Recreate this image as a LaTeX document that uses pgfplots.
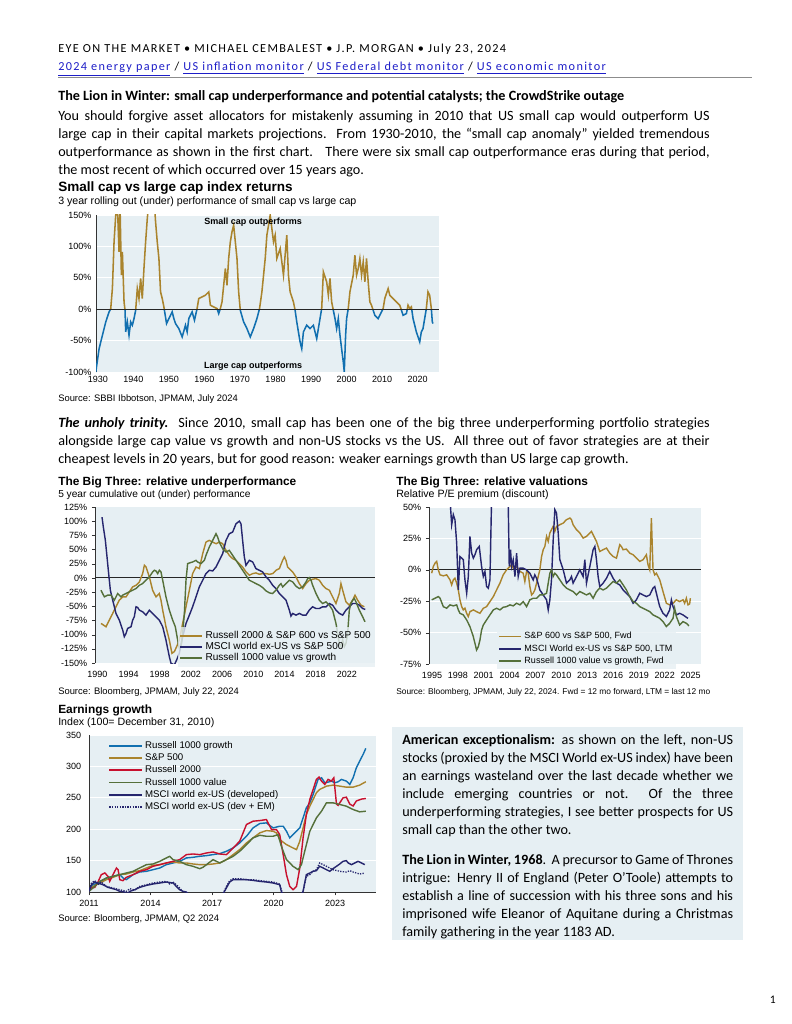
\documentclass[border=0pt]{standalone}
\usepackage{pgfplots}
\pgfplotsset{compat=1.18}
\usepackage{pgfplotstable}
\usepackage{fontspec}
\setmainfont{Carlito}
\newfontfamily\chartfont{Liberation Sans}
\newfontfamily\hdrfont[LetterSpace=11]{Carlito}

\definecolor{plotbg}{RGB}{230,239,243}
\definecolor{boxbg}{RGB}{230,239,243}
\definecolor{gold}{RGB}{170,132,45}
\definecolor{cblue}{RGB}{18,112,176}
\definecolor{navy}{RGB}{38,38,110}
\definecolor{dgreen}{RGB}{85,112,58}
\definecolor{cred}{RGB}{200,16,46}
\definecolor{linkblue}{RGB}{30,30,200}

\newcommand\bodyfont{\fontsize{11}{13.9}\selectfont}
\newcommand\lnk[1]{\textcolor{linkblue}{\underline{#1}}}
\newcommand\ttl{\chartfont\bfseries\fontsize{9.25}{11}\selectfont}
\newcommand\sub{\chartfont\fontsize{8.25}{10}\selectfont}
\newcommand\src{\chartfont\fontsize{7.3}{8.5}\selectfont}

\pgfplotsset{
  eotm/.style={
    scale only axis,
    axis background/.style={fill=plotbg},
    axis lines*=left,
    axis line style={draw=black!80, line width=0.5pt},
    x axis line style={draw=none},
    tick label style={font=\chartfont\fontsize{7}{8}\selectfont},
    xtick style={draw=none},
    ytick style={draw=none},
    major grid style={white, line width=0.8pt},
    legend cell align=left,
    legend style={font=\chartfont\fontsize{7.5}{8.5}\selectfont},
  },
}

% small cap minus large cap, 3y rolling
\pgfplotstableread{
year val
1929.44 -99.8
1930.38 -62.7
1931.31 -41.4
1932.25 -20.2
1933.18 -4.2
1933.65 1.1
1934.11 32.9
1934.58 107.3
1935.05 149.7
1935.52 165
1935.98 91.3
1936.26 165
1936.64 54.2
1936.92 91.3
1937.39 11.7
1937.67 -1.6
1937.85 -36.1
1938.32 -20.2
1938.79 -41.4
1939.25 -20.2
1939.72 -25.5
1940.19 -14.9
1940.66 -1.6
1941.12 32.9
1941.59 17
1942.06 48.9
1942.52 17
1942.99 64.8
1943.46 107.3
1943.93 144.4
1944.39 171
1945.33 171
1945.98 163
1946.26 139.1
1946.73 107.3
1947.20 80.7
1947.66 27.6
1948.13 17
1948.60 3.7
1948.97 -9.6
1949.35 -22.8
1950.00 -14.9
1950.93 -4.2
1951.40 -14.9
1951.87 -22.8
1952.80 -30.8
1953.74 -44.1
1954.67 -25.5
1955.14 -36.1
1955.61 -14.9
1956.54 -4.2
1957.20 -17.5
1957.94 1.1
1958.41 17
1959.35 19.6
1960.28 22.3
1961.22 27.6
1961.68 6.4
1962.62 3.7
1963.55 1.1
1964.02 -6.9
1964.49 1.1
1964.95 11.7
1965.89 64.8
1966.35 38.2
1966.82 80.7
1967.29 107.3
1967.76 123.2
1968.22 133.8
1968.69 107.3
1969.16 80.7
1969.63 27.6
1970.09 -1.6
1971.03 -20.2
1971.96 -30.8
1972.90 -44.1
1973.83 -30.8
1974.77 -14.9
1975.51 1.1
1976.17 27.6
1977.10 80.7
1977.57 117.9
1978.04 133.8
1978.50 149.7
1978.97 128.5
1979.44 107.3
1979.90 117.9
1980.37 80.7
1981.31 96.6
1982.24 54.2
1983.17 117.9
1983.64 54.2
1984.11 27.6
1985.04 11.7
1985.51 -1.6
1985.98 -20.2
1986.91 -52
1987.38 -62.7
1987.85 -36.1
1988.78 -25.5
1989.72 -30.8
1990.65 -25.5
1991.59 -46.7
1992.52 -14.9
1992.99 1.1
1993.46 59.5
1994.39 43.5
1994.86 22.3
1995.32 48.9
1995.79 11.7
1996.26 -1.6
1996.73 -14.9
1997.19 -30.8
1997.66 -14.9
1998.13 -41.4
1998.59 -62.7
1999.06 -83.9
1999.34 -99.8
1999.72 -41.4
2000.00 -14.9
2000.46 1.1
2000.93 27.6
2001.86 54.2
2002.33 86
2002.80 54.2
2003.27 64.8
2003.73 80.7
2004.20 54.2
2004.67 75.4
2005.14 43.5
2005.60 80.7
2006.07 43.5
2006.54 11.7
2007.00 6.4
2007.47 -1.6
2007.94 -9.6
2008.87 -14.9
2009.81 -4.2
2010.28 1.1
2010.74 17
2011.68 32.9
2012.15 22.3
2013.08 17
2014.01 11.7
2014.95 6.4
2015.42 -1.6
2015.88 -9.6
2016.82 -6.9
2017.28 6.4
2017.75 1.1
2018.22 3.7
2018.69 -14.9
2019.62 -36.1
2020.56 -52
2021.02 -36.1
2021.49 -30.8
2021.96 -14.9
2022.43 1.1
2022.89 27.6
2023.36 22.3
2023.83 1.1
2024.11 -20.2
2024.29 -22.8
}\smallcap

\begin{document}
\begin{tikzpicture}[x=0.7737bp, y=-0.7737bp]
\fill[white] (0,0) rectangle (791,1024);
\path[use as bounding box] (0,0) rectangle (791,1024);

% ---- header
\node[anchor=base west, inner sep=0] at (58,53) {\hdrfont\fontsize{9.5}{11}\selectfont EYE ON THE MARKET \textbullet\ MICHAEL CEMBALEST \textbullet\ J.P. MORGAN \textbullet\ July 23, 2024};
\node[anchor=base west, inner sep=0] at (58,71) {\hdrfont\fontsize{9.5}{11}\selectfont \lnk{2024 energy paper} / \lnk{US inflation monitor} / \lnk{US Federal debt monitor} / \lnk{US economic monitor}};
\draw[black!45, line width=1.3bp] (58,77.5) -- (752,77.5);

\node[anchor=base west, inner sep=0] at (58,101) {\fontsize{11}{13}\selectfont\bfseries The Lion in Winter: small cap underperformance and potential catalysts; the CrowdStrike outage};
\node[anchor=base west, inner sep=0] at (58,121) {\bodyfont\makebox[504bp][s]{You should forgive asset allocators for mistakenly assuming in 2010 that US small cap would outperform US}};
\node[anchor=base west, inner sep=0] at (58,139) {\bodyfont\makebox[504bp][s]{large cap in their capital markets projections.\ \ From 1930-2010, the “small cap anomaly” yielded tremendous}};
\node[anchor=base west, inner sep=0] at (58,157) {\bodyfont\makebox[504bp][s]{outperformance as shown in the first chart.\ \ \ There were six small cap outperformance eras during that period,}};
\node[anchor=base west, inner sep=0] at (58,175) {\bodyfont the most recent of which occurred over 15 years ago.};

% ---- chart 1
\node[anchor=base west, inner sep=0] at (58,192) {\chartfont\bfseries\fontsize{10.5}{12}\selectfont Small cap vs large cap index returns};
\node[anchor=base west, inner sep=0] at (58,205) {\sub 3 year rolling out (under) performance of small cap vs large cap};
\coordinate (c1) at (96,215);
\begin{axis}[eotm, at={(c1)}, anchor=north west, width=265.4bp, height=121.5bp,
  xmin=1929.5, xmax=2026, ymin=-100, ymax=150,
  xtick={1930,1940,...,2020},
  xticklabels={1930,1940,1950,1960,1970,1980,1990,2000,2010,2020},
  ytick={-100,-50,0,50,100,150},
  yticklabels={-100\%,-50\%,0\%,50\%,100\%,150\%},
  ymajorgrids]
\begin{scope}
\clip (axis cs:1920,0) rectangle (axis cs:2030,200);
\addplot[gold, line width=1.2pt] table[x=year, y=val] {\smallcap};
\end{scope}
\begin{scope}
\clip (axis cs:1920,-200) rectangle (axis cs:2030,0);
\addplot[cblue, line width=1.2pt] table[x=year, y=val] {\smallcap};
\end{scope}
\draw[black!85, line width=0.9pt] (axis cs:1929.5,0) -- (axis cs:2026,0);
\node[font=\chartfont\bfseries\fontsize{7}{8}\selectfont] at (axis cs:1973.7,138.5) {Small cap outperforms};
\node[font=\chartfont\bfseries\fontsize{7}{8}\selectfont] at (axis cs:1973.7,-90) {Large cap outperforms};
\end{axis}
\node[anchor=base west, inner sep=0] at (58,401) {\src Source: SBBI Ibbotson, JPMAM, July 2024};

% ---- paragraph 2
\node[anchor=base west, inner sep=0] at (58,427) {\bodyfont\makebox[504bp][s]{\textbf{\textit{The unholy trinity.}}\ \ Since 2010, small cap has been one of the big three underperforming portfolio strategies}};
\node[anchor=base west, inner sep=0] at (58,445) {\bodyfont\makebox[504bp][s]{alongside large cap value vs growth and non-US stocks vs the US.\ \ All three out of favor strategies are at their}};
\node[anchor=base west, inner sep=0] at (58,463) {\bodyfont cheapest levels in 20 years, but for good reason: weaker earnings growth than US large cap growth.};

% ---- chart 2
\node[anchor=base west, inner sep=0] at (58,485) {\ttl The Big Three: relative underperformance};
\node[anchor=base west, inner sep=0] at (58,497) {\chartfont\fontsize{7.9}{9.5}\selectfont 5 year cumulative out (under) performance};
\coordinate (c2) at (95,507);
\begin{axis}[eotm, at={(c2)}, anchor=north west, width=216.6bp, height=120.7bp,
  xmin=1989.7, xmax=2025.6, ymin=-150, ymax=125,
  xtick={1990,1994,...,2022},
  xticklabels={1990,1994,1998,2002,2006,2010,2014,2018,2022},
  ytick={-150,-125,-100,-75,-50,-25,0,25,50,75,100,125},
  yticklabels={-150\%,-125\%,-100\%,-75\%,-50\%,-25\%,0\%,25\%,50\%,75\%,100\%,125\%},
  ytick style={draw=black!80}, tick align=outside, major tick length=2.5bp,
  legend style={at={(1,-0.025)}, anchor=south east, fill=plotbg, fill opacity=0.8, text opacity=1,
    draw=none, row sep=-2.5pt, inner sep=1pt, font=\chartfont\fontsize{7.8}{8.8}\selectfont},
  legend image code/.code={\draw[#1, line width=1.3pt] (0bp,0bp) -- (17bp,0bp);}]
\draw[black!85, line width=0.9pt] (axis cs:1989.7,0) -- (axis cs:2025.6,0);
\addplot[gold, line width=1.1pt] coordinates {
(1990.47,-80.2) (1991.11,-86.1) (1991.54,-74.4) (1991.97,-62.6) (1992.39,-50.9)
(1992.82,-39.2) (1993.25,-33.4) (1993.68,-33.4) (1994.10,-24.6) (1994.53,-15.8)
(1994.96,-12.9) (1995.39,-7.0) (1995.81,7.6) (1996.03,22.2) (1996.24,19.3)
(1996.67,1.8) (1997.09,-21.7) (1997.52,-33.4) (1997.95,-27.5) (1998.16,-39.2)
(1998.38,-56.8) (1998.80,-86.1) (1999.23,-109.5) (1999.57,-132.9) (1999.87,-130.0)
(2000.17,-121.2) (2000.51,-109.5) (2000.73,-94.9) (2000.94,-80.2) (2001.37,-50.9)
(2001.80,-21.7) (2002.22,7.6) (2002.65,19.3) (2003.08,16.4) (2003.51,42.7)
(2003.93,63.2) (2004.36,66.2) (2004.79,63.2) (2005.22,60.3) (2005.64,63.2)
(2006.07,60.3) (2006.50,48.6) (2006.92,39.8) (2007.35,34.0) (2007.78,31.0)
(2008.21,25.2) (2008.63,19.3) (2009.06,10.5) (2009.49,4.7) (2009.92,7.6)
(2010.34,8.8) (2010.77,6.4) (2011.20,7.6) (2011.63,7.6) (2012.05,6.4)
(2012.48,7.6) (2012.91,13.5) (2013.34,16.4) (2013.76,31.0) (2013.98,36.9)
(2014.19,31.0) (2014.40,19.3) (2014.62,16.4) (2015.05,10.5) (2015.47,1.8)
(2015.90,-10.0) (2016.33,-18.7) (2016.76,-10.0) (2017.18,-4.1) (2017.61,-2.3)
(2018.04,-1.2) (2018.47,-4.1) (2018.89,-12.9) (2019.32,-18.7) (2019.75,-21.7)
(2020.17,-33.4) (2020.60,-45.1) (2021.03,-27.5) (2021.24,-10.0) (2021.46,-21.7)
(2021.88,-42.2) (2022.31,-48.0) (2022.74,-39.2) (2023.04,-30.4) (2023.38,-39.2)
(2023.81,-48.0) (2024.23,-50.9)};
\addlegendentry{Russell 2000 \& S\&P 600 vs S\&P 500}
\addplot[navy, line width=1.1pt] coordinates {
(1990.60,107.1) (1990.77,89.6) (1991.03,66.2) (1991.20,42.7) (1991.45,7.6)
(1991.67,-21.7) (1991.97,-39.2) (1992.39,-62.6) (1992.82,-74.4) (1993.25,-91.9)
(1993.46,-103.6) (1993.68,-97.8) (1993.89,-89.0) (1994.32,-86.1) (1994.53,-74.4)
(1994.74,-68.5) (1994.96,-50.9) (1995.17,-52.1) (1995.39,-56.8) (1995.81,-59.7)
(1996.24,-65.6) (1996.67,-56.8) (1997.09,-62.6) (1997.52,-68.5) (1997.95,-74.4)
(1998.38,-86.1) (1998.80,-109.5) (1999.23,-138.8) (1999.45,-150.5) (1999.87,-153.4)
(2000.17,-144.6) (2000.51,-132.9) (2000.94,-103.6) (2001.37,-80.2) (2001.80,-65.6)
(2002.22,-50.9) (2002.65,-33.4) (2003.08,-15.8) (2003.51,-4.1) (2003.93,7.6)
(2004.36,13.5) (2004.79,12.3) (2005.22,19.3) (2005.64,31.0) (2006.07,42.7)
(2006.50,66.2) (2006.92,77.9) (2007.35,80.8) (2007.78,95.4) (2008.21,100.1)
(2008.42,95.4) (2008.63,66.2) (2008.85,36.9) (2009.06,22.2) (2009.49,31.0)
(2009.92,28.1) (2010.34,16.4) (2010.77,13.5) (2011.20,10.5) (2011.63,1.8)
(2012.05,-4.1) (2012.48,-12.9) (2012.91,-18.7) (2013.34,-27.5) (2013.76,-33.4)
(2014.19,-39.2) (2014.62,-56.8) (2014.83,-67.3) (2015.05,-62.6) (2015.47,-65.6)
(2015.90,-62.6) (2016.33,-65.6) (2016.76,-65.6) (2017.18,-56.8) (2017.61,-50.9)
(2018.04,-53.9) (2018.47,-53.9) (2018.89,-50.9) (2019.32,-50.9) (2019.75,-45.1)
(2020.17,-48.0) (2020.60,-56.8) (2021.03,-62.6) (2021.46,-65.6) (2021.88,-56.8)
(2022.31,-50.9) (2022.74,-45.1) (2023.17,-45.1) (2023.59,-48.0) (2024.02,-53.9)
(2024.36,-55.6)};
\addlegendentry{MSCI world ex-US vs S\&P 500}
\addplot[dgreen, line width=1.1pt] coordinates {
(1990.47,-21.7) (1990.90,-33.4) (1991.32,-30.4) (1991.75,-30.4) (1992.18,-39.2)
(1992.61,-27.5) (1993.03,-33.4) (1993.25,-30.4) (1993.68,-27.5) (1994.10,-24.6)
(1994.53,-21.7) (1994.96,-18.7) (1995.39,-12.9) (1995.81,-10.0) (1996.24,-4.1)
(1996.67,1.8) (1997.09,10.5) (1997.31,13.5) (1997.52,12.3) (1997.74,7.6)
(1997.95,13.5) (1998.16,10.5) (1998.38,-4.1) (1998.80,-33.4) (1999.23,-56.8)
(1999.66,-74.4) (2000.00,-86.1) (2000.30,-109.5) (2000.51,-124.1) (2000.73,-121.2)
(2000.94,-97.8) (2001.16,-62.6) (2001.37,-4.1) (2001.58,25.2) (2001.80,26.3)
(2002.22,28.1) (2002.65,31.0) (2002.87,28.1) (2003.29,25.2) (2003.72,31.0)
(2003.93,39.8) (2004.36,54.5) (2004.79,66.2) (2005.22,77.9) (2005.43,72.0)
(2005.64,63.2) (2006.07,51.5) (2006.50,45.7) (2006.92,48.6) (2007.35,39.8)
(2007.78,31.0) (2008.21,22.2) (2008.63,13.5) (2009.06,4.7) (2009.49,-4.1)
(2009.92,-7.0) (2010.34,-10.0) (2010.77,-12.9) (2011.20,-17.0) (2011.63,-22.8)
(2012.05,-26.3) (2012.48,-27.5) (2012.91,-21.7) (2013.34,-12.9) (2013.55,-10.0)
(2013.76,-15.8) (2014.19,-10.0) (2014.62,-4.1) (2015.05,-7.0) (2015.47,-14.6)
(2015.90,-18.7) (2016.33,-15.8) (2016.76,-7.0) (2016.97,-1.2) (2017.18,0.6)
(2017.40,-4.1) (2017.61,-12.9) (2018.04,-27.5) (2018.47,-39.2) (2018.89,-45.1)
(2019.32,-42.2) (2019.75,-48.0) (2020.17,-56.8) (2020.60,-80.2) (2020.82,-97.8)
(2021.03,-115.3) (2021.24,-121.2) (2021.46,-109.5) (2021.67,-121.2) (2021.88,-115.3)
(2022.10,-97.8) (2022.31,-56.8) (2022.52,-45.1) (2022.74,-39.2) (2022.95,-36.3)
(2023.17,-42.2) (2023.59,-56.8) (2024.02,-68.5) (2024.32,-77.3)};
\addlegendentry{Russell 1000 value vs growth}
\end{axis}
\node[anchor=base west, inner sep=0] at (58,694) {\src Source: Bloomberg, JPMAM, July 22, 2024};

% ---- chart 3
\node[anchor=base west, inner sep=0] at (396,485) {\ttl The Big Three: relative valuations};
\node[anchor=base west, inner sep=0] at (396,497) {\sub Relative P/E premium (discount)};
\coordinate (c3) at (429,507);
\begin{axis}[eotm, at={(c3)}, anchor=north west, width=210.4bp, height=121.5bp,
  xmin=1994.65, xmax=2026.2, ymin=-75, ymax=50,
  xtick={1995,1998,...,2025},
  xticklabels={1995,1998,2001,2004,2007,2010,2013,2016,2019,2022,2025},
  ytick={-75,-50,-25,0,25,50},
  yticklabels={-75\%,-50\%,-25\%,0\%,25\%,50\%},
  ymajorgrids,
  ytick style={draw=black!80}, tick align=outside, major tick length=2.5bp,
  legend style={at={(0.249,-0.035)}, anchor=south west, fill=plotbg, fill opacity=0.8, text opacity=1,
    draw=none, row sep=-1pt, inner sep=1pt, font=\chartfont\fontsize{7}{8}\selectfont},
  legend image code/.code={\draw[#1, line width=1.3pt] (0bp,0bp) -- (17bp,0bp);}]
\draw[black!85, line width=0.9pt] (axis cs:1994.65,0) -- (axis cs:2026.2,0);
\addplot[gold, line width=1.1pt] coordinates {
(1994.96,-2.7) (1995.15,2.7) (1995.35,5.3) (1995.54,6.7) (1995.73,0) (1995.93,-4.0)
(1996.31,-4.8) (1996.70,-4.0) (1997.09,-8.0) (1997.28,-12.0) (1997.47,-8.0) (1997.66,-6.7)
(1997.86,-10.6) (1998.05,-16.0) (1998.24,-23.9) (1998.44,-29.3) (1998.63,-31.9) (1998.82,-30.6)
(1999.02,-34.6) (1999.21,-37.2) (1999.40,-33.3) (1999.79,-31.9) (2000.17,-33.3) (2000.56,-34.6)
(2000.95,-30.6) (2001.33,-29.3) (2001.72,-25.3) (2002.11,-21.3) (2002.49,-16.0) (2002.88,-10.6)
(2003.26,-4.0) (2003.65,0) (2004.04,2.7) (2004.23,4.0) (2004.42,1.3) (2004.81,2.7)
(2005.20,-1.3) (2005.58,-2.7) (2005.77,-9.3) (2005.97,-1.3) (2006.16,-2.7) (2006.35,-13.3)
(2006.55,-20.0) (2006.74,-18.6) (2006.93,-16.0) (2007.13,-10.6) (2007.51,0) (2007.71,10.6)
(2007.90,16.0) (2008.09,18.6) (2008.29,26.6) (2008.48,22.6) (2008.67,29.3) (2009.06,34.6)
(2009.25,30.6) (2009.44,34.6) (2009.83,35.9) (2010.22,37.2) (2010.60,39.9) (2010.99,41.2)
(2011.18,39.9) (2011.37,35.9) (2011.76,31.9) (2012.15,29.3) (2012.53,25.3) (2012.92,26.6)
(2013.31,29.3) (2013.50,30.6) (2013.69,27.9) (2014.08,22.6) (2014.46,14.6) (2014.85,16.0)
(2015.24,17.3) (2015.62,13.3) (2016.01,10.6) (2016.40,9.3) (2016.78,20.0) (2016.97,18.6)
(2017.17,16.0) (2017.55,16.5) (2017.94,13.3) (2018.33,12.0) (2018.71,9.3) (2019.10,6.7)
(2019.48,8.0) (2019.87,12.0) (2020.06,4.0) (2020.26,0) (2020.45,41.2) (2020.64,0)
(2020.84,-4.0) (2021.03,-2.7) (2021.42,-8.0) (2021.80,-17.3) (2022.19,-26.6) (2022.57,-27.9)
(2022.96,-26.6) (2023.35,-23.9) (2023.73,-25.3) (2024.12,-23.9) (2024.31,-26.6) (2024.51,-22.6)
(2024.70,-27.9) (2024.89,-27.1) (2024.97,-22.6)};
\addlegendentry{S\&P 600 vs S\&P 500, Fwd}
\addplot[navy, line width=1.1pt] coordinates {
(1997.01,70) (1997.09,56) (1997.28,35.9) (1997.47,43.9) (1997.66,39.9) (1997.86,21.3)
(1998.05,-16.0) (1998.24,10.6) (1998.44,9.3) (1998.63,8.0) (1998.82,-8.0) (1999.02,-18.6)
(1999.21,-5.3) (1999.40,26.6) (1999.60,13.3) (1999.79,9.3) (1999.98,12.0) (2000.17,16.0)
(2000.48,18.6) (2000.75,2.7) (2000.95,-5.3) (2001.14,-1.3) (2001.33,-13.3) (2001.53,-14.6)
(2001.72,-8.0) (2001.95,70) (2003.80,70) (2003.96,2.7) (2004.11,16.0) (2004.23,2.7)
(2004.42,8.0) (2004.62,-5.3) (2004.81,13.3) (2005.00,-5.3) (2005.20,1.3) (2005.58,1.3)
(2005.97,0) (2006.35,-2.7) (2006.74,-8.0) (2006.93,-4.0) (2007.13,-6.7) (2007.51,-16.0)
(2007.90,-20.0) (2008.29,-23.9) (2008.48,-31.9) (2008.67,-23.9) (2008.86,-8.0) (2009.06,23.9)
(2009.25,47.9) (2009.44,45.2) (2009.64,29.3) (2009.83,8.0) (2010.22,0) (2010.60,-10.6)
(2010.99,-8.0) (2011.18,-5.3) (2011.37,-10.6) (2011.76,-5.3) (2012.15,0) (2012.53,-5.3)
(2012.73,8.0) (2012.92,-10.6) (2013.31,2.7) (2013.69,16.0) (2013.89,18.6) (2014.08,8.0)
(2014.27,-5.3) (2014.46,-13.3) (2014.85,-10.6) (2015.24,-6.7) (2015.62,-1.3) (2016.01,-6.7)
(2016.40,-10.6) (2016.78,-12.0) (2017.17,-16.0) (2017.55,-18.6) (2017.94,-21.3) (2018.33,-26.6)
(2018.71,-23.9) (2019.10,-18.6) (2019.48,-20.0) (2019.87,-21.3) (2020.26,-20.0) (2020.64,-14.6)
(2020.84,-13.3) (2021.03,-18.6) (2021.22,-23.9) (2021.42,-29.3) (2021.80,-34.6) (2022.19,-37.2)
(2022.57,-31.9) (2022.77,-23.9) (2022.96,-29.3) (2023.35,-35.9) (2023.73,-34.6) (2024.12,-35.9)
(2024.51,-37.8) (2024.70,-38.6)};
\addlegendentry{MSCI World ex-US vs S\&P 500, LTM}
\addplot[dgreen, line width=1.1pt] coordinates {
(1994.96,-23.9) (1995.35,-22.6) (1995.73,-21.3) (1995.93,-22.6) (1996.31,-29.3) (1996.70,-30.6)
(1997.09,-27.9) (1997.47,-28.7) (1997.86,-27.9) (1998.05,-31.9) (1998.24,-34.6) (1998.63,-35.9)
(1999.02,-39.9) (1999.40,-45.2) (1999.79,-53.2) (1999.98,-58.5) (2000.17,-63.8) (2000.37,-61.2)
(2000.56,-55.9) (2000.75,-47.9) (2000.95,-43.9) (2001.33,-39.9) (2001.72,-35.9) (2002.11,-31.9)
(2002.49,-30.6) (2002.88,-31.9) (2003.26,-29.8) (2003.65,-29.3) (2004.04,-27.9) (2004.42,-28.7)
(2004.81,-26.6) (2005.20,-27.9) (2005.58,-25.3) (2005.97,-29.3) (2006.35,-23.9) (2006.74,-22.6)
(2007.13,-22.6) (2007.51,-20.0) (2007.90,-20.0) (2008.29,-18.6) (2008.48,-10.6) (2008.67,-2.7)
(2008.86,0) (2009.06,-5.3) (2009.25,-2.7) (2009.44,-4.0) (2009.83,-8.0) (2010.22,-12.0)
(2010.60,-14.6) (2010.99,-16.0) (2011.37,-17.3) (2011.76,-20.0) (2012.15,-17.3) (2012.53,-18.6)
(2012.92,-20.0) (2013.31,-18.6) (2013.69,-22.6) (2014.08,-17.3) (2014.46,-14.6) (2014.85,-16.0)
(2015.24,-14.6) (2015.62,-12.0) (2016.01,-9.3) (2016.40,-10.6) (2016.78,-8.0) (2017.17,-12.0)
(2017.55,-16.0) (2017.94,-21.3) (2018.33,-25.3) (2018.71,-26.6) (2019.10,-29.3) (2019.48,-30.6)
(2019.87,-31.9) (2020.26,-33.3) (2020.64,-35.9) (2021.03,-37.2) (2021.42,-38.6) (2021.80,-41.2)
(2022.19,-45.2) (2022.57,-42.6) (2022.96,-38.6) (2023.15,-30.6) (2023.35,-37.2) (2023.73,-43.9)
(2024.12,-41.2) (2024.51,-42.6) (2024.81,-44.7)};
\addlegendentry{Russell 1000 value vs growth, Fwd}
\end{axis}
\node[anchor=base west, inner sep=0] at (396,694) {\chartfont\fontsize{6.5}{7.5}\selectfont Source: Bloomberg, JPMAM, July 22, 2024. Fwd = 12 mo forward, LTM = last 12 mo};

% ---- chart 4
\node[anchor=base west, inner sep=0] at (58,713) {\ttl Earnings growth};
\node[anchor=base west, inner sep=0] at (58,725) {\sub Index (100= December 31, 2010)};
\coordinate (c4) at (89,735);
\begin{axis}[eotm, at={(c4)}, anchor=north west, width=222.1bp, height=121.5bp,
  xmin=2011, xmax=2025, ymin=100, ymax=350,
  xtick={2011,2014,2017,2020,2023},
  xticklabels={2011,2014,2017,2020,2023},
  ytick={100,150,...,350},
  yticklabels={100,150,200,250,300,350},
  ymajorgrids,
  x axis line style={draw=black!80, line width=0.5pt},
  xtick style={draw=black!80}, tick align=outside, major tick length=2.5bp,
  legend style={at={(0.063,0.985)}, anchor=north west, fill=none, draw=none,
    row sep=-1.4pt, inner sep=1pt},
  legend image code/.code={\draw[#1, line width=1.3pt] (0bp,0bp) -- (25bp,0bp);}]
\addplot[cblue, line width=1.1pt] coordinates {
(2011.00,101.1) (2011.20,111.7) (2011.52,116.0) (2011.85,122.3) (2012.17,125.0) (2012.50,127.7)
(2012.66,122.3) (2012.82,119.7) (2013.15,127.7) (2013.47,131.9) (2013.80,133.0) (2014.12,135.6)
(2014.45,138.3) (2014.77,143.6) (2015.10,146.3) (2015.42,148.9) (2015.59,151.6) (2015.75,154.3)
(2016.07,155.3) (2016.40,156.9) (2016.73,158.0) (2017.05,159.6) (2017.38,161.2) (2017.70,164.9)
(2018.03,170.2) (2018.35,178.2) (2018.68,188.8) (2019.00,202.1) (2019.33,209.1) (2019.65,210.1)
(2019.98,202.1) (2020.30,204.8) (2020.47,204.8) (2020.63,196.8) (2020.79,186.2) (2020.95,191.5)
(2021.12,196.8) (2021.28,202.1) (2021.44,218.1) (2021.60,234.1) (2021.77,242.0) (2021.93,255.3)
(2022.09,271.3) (2022.17,279.3) (2022.34,281.9) (2022.50,274.0) (2022.66,275.0) (2022.82,276.6)
(2022.99,274.0) (2023.15,275.6) (2023.31,279.3) (2023.55,276.6) (2023.72,271.3) (2023.88,281.9)
(2024.04,297.9) (2024.20,308.5) (2024.37,319.2) (2024.50,328.8)};
\addlegendentry{Russell 1000 growth}
\addplot[gold, line width=1.1pt] coordinates {
(2011.00,101.1) (2011.20,109.0) (2011.52,114.4) (2011.85,119.7) (2012.17,123.4) (2012.50,127.7)
(2012.82,128.7) (2013.15,131.9) (2013.47,134.0) (2013.80,138.3) (2014.12,142.6) (2014.45,143.6)
(2014.77,146.3) (2015.10,147.9) (2015.42,146.3) (2015.75,146.3) (2016.07,144.7) (2016.40,143.6)
(2016.73,143.6) (2017.05,144.7) (2017.38,146.3) (2017.70,151.6) (2018.03,159.6) (2018.35,167.6)
(2018.68,178.2) (2019.00,186.2) (2019.33,194.2) (2019.65,197.9) (2019.98,196.8) (2020.14,194.2)
(2020.30,183.5) (2020.63,175.5) (2020.95,170.2) (2021.12,167.6) (2021.28,180.9) (2021.44,202.1)
(2021.60,223.4) (2021.77,236.7) (2021.93,247.4) (2022.09,258.0) (2022.25,263.3) (2022.58,268.6)
(2022.90,270.2) (2023.23,268.6) (2023.55,267.0) (2023.88,267.0) (2024.20,270.2) (2024.50,275.6)};
\addlegendentry{S\&P 500}
\addplot[cred, line width=1.1pt] coordinates {
(2011.00,101.1) (2011.12,106.4) (2011.28,107.4) (2011.44,116.0) (2011.60,127.7) (2011.77,130.3)
(2011.93,125.0) (2012.01,117.0) (2012.17,127.7) (2012.34,138.3) (2012.42,135.6) (2012.50,119.7)
(2012.66,118.1) (2012.82,123.4) (2013.15,127.7) (2013.47,133.0) (2013.80,135.6) (2014.12,141.0)
(2014.45,143.6) (2014.77,146.3) (2015.10,148.9) (2015.42,151.6) (2015.75,159.6) (2016.07,160.6)
(2016.40,159.6) (2016.73,162.2) (2017.05,163.8) (2017.38,160.6) (2017.70,159.6) (2018.03,170.2)
(2018.35,180.9) (2018.68,207.5) (2019.00,212.8) (2019.33,213.8) (2019.65,215.4) (2019.90,199.5)
(2020.14,199.5) (2020.30,191.5) (2020.47,159.6) (2020.63,127.7) (2020.79,109.0) (2020.95,103.7)
(2021.12,109.0) (2021.28,138.3) (2021.44,186.2) (2021.60,223.4) (2021.77,247.4) (2021.93,263.3)
(2022.09,279.3) (2022.22,283.0) (2022.34,276.6) (2022.50,271.3) (2022.66,279.3) (2022.82,276.6)
(2022.94,281.9) (2023.07,240.0) (2023.15,238.0) (2023.39,250.0) (2023.55,251.0) (2023.72,240.0)
(2023.88,237.0) (2024.04,245.0) (2024.29,248.0) (2024.50,249.0)};
\addlegendentry{Russell 2000}
\addplot[dgreen, line width=1.1pt] coordinates {
(2011.00,101.1) (2011.28,109.0) (2011.52,117.0) (2011.85,122.3) (2012.17,125.0) (2012.50,127.7)
(2012.82,130.3) (2013.15,133.0) (2013.47,138.3) (2013.80,143.6) (2014.12,144.7) (2014.45,148.9)
(2014.77,154.3) (2014.94,156.9) (2015.10,151.6) (2015.42,148.9) (2015.75,143.6) (2016.07,141.0)
(2016.40,137.2) (2016.56,139.4) (2016.73,143.6) (2017.05,151.6) (2017.38,146.3) (2017.70,151.6)
(2018.03,156.9) (2018.35,164.9) (2018.68,175.5) (2019.00,186.2) (2019.33,190.4) (2019.65,188.8)
(2019.98,188.8) (2020.22,191.5) (2020.38,172.9) (2020.63,151.6) (2020.95,141.0) (2021.20,135.6)
(2021.36,143.6) (2021.52,164.9) (2021.77,196.8) (2022.09,218.1) (2022.34,228.7) (2022.58,242.0)
(2022.90,242.0) (2023.23,239.4) (2023.55,236.7) (2023.88,231.4) (2024.20,227.7) (2024.50,228.7)};
\addlegendentry{Russell 1000 value}
\addplot[navy, line width=1.1pt] coordinates {
(2011.00,101.1) (2011.12,111.7) (2011.28,116.0) (2011.44,114.4) (2011.68,111.7) (2011.93,107.4)
(2012.17,105.3) (2012.34,103.7) (2012.50,101.1) (2012.74,100.0) (2012.85,97.0) (2012.99,101.1)
(2013.23,103.7) (2013.47,107.4) (2013.80,110.6) (2014.12,112.8) (2014.45,114.4) (2014.77,116.0)
(2015.10,114.4) (2015.26,109.0) (2015.42,103.7) (2015.59,101.1) (2015.75,100.0) (2015.90,95.0)
(2017.50,95.0) (2017.70,106.4) (2017.86,116.0) (2018.03,119.7) (2018.35,119.7) (2018.68,119.7)
(2019.00,118.6) (2019.33,117.0) (2019.65,116.0) (2019.98,114.4) (2020.30,111.7) (2020.38,101.1)
(2020.47,95.0) (2021.35,95.0) (2021.44,101.1) (2021.60,127.7) (2021.77,130.3) (2021.93,133.0)
(2022.09,134.0) (2022.25,141.0) (2022.42,138.3) (2022.58,135.6) (2022.74,133.0) (2022.90,137.2)
(2023.07,141.0) (2023.23,144.7) (2023.39,148.9) (2023.55,150.0) (2023.64,146.3) (2023.80,143.6)
(2023.96,146.3) (2024.12,148.9) (2024.29,146.3) (2024.45,143.6)};
\addlegendentry{MSCI world ex-US (developed)}
\addplot[navy, line width=1pt, densely dotted] coordinates {
(2011.00,101.1) (2011.12,114.4) (2011.28,118.1) (2011.44,111.7) (2011.60,116.0) (2011.85,109.0)
(2012.17,106.4) (2012.50,103.7) (2012.82,101.1) (2012.99,105.3) (2013.23,103.2) (2013.47,109.0)
(2013.80,111.7) (2014.12,114.4) (2014.45,116.0) (2014.77,117.0) (2014.94,112.8) (2015.10,116.0)
(2015.26,111.7) (2015.42,106.4) (2015.59,100.0) (2015.70,95.0) (2017.50,95.0) (2017.70,109.0)
(2017.86,118.1) (2018.03,121.3) (2018.35,121.3) (2018.68,119.7) (2019.00,119.7) (2019.33,118.1)
(2019.65,117.0) (2019.98,116.0) (2020.30,112.8) (2020.38,103.7) (2020.47,95.0) (2021.35,95.0)
(2021.44,101.1) (2021.60,125.0) (2021.77,127.7) (2021.93,133.0) (2022.09,135.6) (2022.25,146.3)
(2022.42,143.6) (2022.58,141.0) (2022.90,135.6) (2023.23,133.0) (2023.55,131.9) (2023.72,134.0)
(2023.88,131.9) (2024.04,130.3) (2024.20,128.7) (2024.37,129.8) (2024.45,128.7)};
\addlegendentry{MSCI world ex-US (dev + EM)}
\end{axis}
\node[anchor=base west, inner sep=0] at (58,921) {\src Source: Bloomberg, JPMAM, Q2 2024};

% ---- text box
\fill[boxbg] (392,727) rectangle (743,940);
\node[anchor=base west, inner sep=0] at (402,744) {\bodyfont\makebox[256bp][s]{\textbf{American exceptionalism:} as shown on the left, non-US}};
\node[anchor=base west, inner sep=0] at (402,762) {\bodyfont\makebox[256bp][s]{stocks (proxied by the MSCI World ex-US index) have been}};
\node[anchor=base west, inner sep=0] at (402,780) {\bodyfont\makebox[256bp][s]{an earnings wasteland over the last decade whether we}};
\node[anchor=base west, inner sep=0] at (402,798) {\bodyfont\makebox[256bp][s]{include emerging countries or not.\ \ Of the three}};
\node[anchor=base west, inner sep=0] at (402,816) {\bodyfont\makebox[256bp][s]{underperforming strategies, I see better prospects for US}};
\node[anchor=base west, inner sep=0] at (402,834) {\bodyfont small cap than the other two.};
\node[anchor=base west, inner sep=0] at (402,864) {\bodyfont\makebox[256bp][s]{\textbf{The Lion in Winter, 1968}.\ \ A precursor to Game of Thrones}};
\node[anchor=base west, inner sep=0] at (402,882) {\bodyfont\makebox[256bp][s]{intrigue: Henry II of England (Peter O’Toole) attempts to}};
\node[anchor=base west, inner sep=0] at (402,900) {\bodyfont\makebox[256bp][s]{establish a line of succession with his three sons and his}};
\node[anchor=base west, inner sep=0] at (402,918) {\bodyfont\makebox[256bp][s]{imprisoned wife Eleanor of Aquitane during a Christmas}};
\node[anchor=base west, inner sep=0] at (402,936) {\bodyfont family gathering in the year 1183 AD.};

\node[anchor=base east, inner sep=0] at (776,1003) {\fontsize{9}{10}\selectfont 1};
\end{tikzpicture}
\end{document}
